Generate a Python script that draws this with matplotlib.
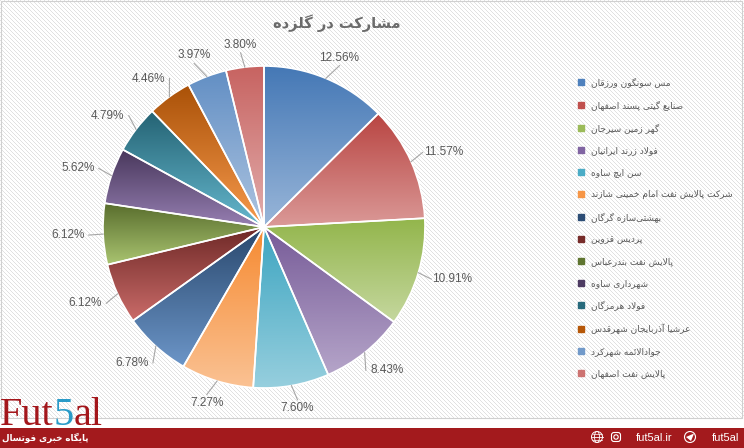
import colorsys
import numpy as np
import matplotlib
matplotlib.use('Agg')
import matplotlib.pyplot as plt
import matplotlib.patches as mpatches
from matplotlib.lines import Line2D
from matplotlib.colors import to_rgb

# data
teams = [
    'مس سونگون ورزقان',
    'صنایع گیتی پسند اصفهان',
    'گهر زمین سیرجان',
    'فولاد زرند ایرانیان',
    'سن ایچ ساوه',
    'شرکت پالایش نفت امام خمینی شازند',
    'بهشتی\u200cسازه گرگان',
    'پردیس قزوین',
    'پالایش نفت بندرعباس',
    'شهرداری ساوه',
    'فولاد هرمزگان',
    'عرشیا آذربایجان شهرقدس',
    'جوادالائمه شهرکرد',
    'پالایش نفت اصفهان',
]
shares = [12.56, 11.57, 10.91, 8.43, 7.60, 7.27, 6.78, 6.12, 6.12, 5.62, 4.79, 4.46, 3.97, 3.80]
colors = ['#4F81BD', '#C0504D', '#9BBB59', '#8064A2', '#4BACC6', '#F79646', '#2C4D75',
          '#772C2A', '#5F7530', '#4D3B62', '#276A7C', '#B65708', '#729ACA', '#CD7371']
title = 'مشارکت در گلزده'
site_fa = 'پایگاه خبری فوتسال'

# --- minimal persian shaping (no arabic_reshaper / bidi available) ---
FORMS = {
    'ا': (0xFE8D, 0xFE8E, None, None), 'آ': (0xFE81, 0xFE82, None, None),
    'ب': (0xFE8F, 0xFE90, 0xFE91, 0xFE92), 'پ': (0xFB56, 0xFB57, 0xFB58, 0xFB59),
    'ت': (0xFE95, 0xFE96, 0xFE97, 0xFE98), 'ث': (0xFE99, 0xFE9A, 0xFE9B, 0xFE9C),
    'ج': (0xFE9D, 0xFE9E, 0xFE9F, 0xFEA0), 'چ': (0xFB7A, 0xFB7B, 0xFB7C, 0xFB7D),
    'ح': (0xFEA1, 0xFEA2, 0xFEA3, 0xFEA4), 'خ': (0xFEA5, 0xFEA6, 0xFEA7, 0xFEA8),
    'د': (0xFEA9, 0xFEAA, None, None), 'ذ': (0xFEAB, 0xFEAC, None, None),
    'ر': (0xFEAD, 0xFEAE, None, None), 'ز': (0xFEAF, 0xFEB0, None, None),
    'ژ': (0xFB8A, 0xFB8B, None, None),
    'س': (0xFEB1, 0xFEB2, 0xFEB3, 0xFEB4), 'ش': (0xFEB5, 0xFEB6, 0xFEB7, 0xFEB8),
    'ص': (0xFEB9, 0xFEBA, 0xFEBB, 0xFEBC), 'ض': (0xFEBD, 0xFEBE, 0xFEBF, 0xFEC0),
    'ط': (0xFEC1, 0xFEC2, 0xFEC3, 0xFEC4), 'ظ': (0xFEC5, 0xFEC6, 0xFEC7, 0xFEC8),
    'ع': (0xFEC9, 0xFECA, 0xFECB, 0xFECC), 'غ': (0xFECD, 0xFECE, 0xFECF, 0xFED0),
    'ف': (0xFED1, 0xFED2, 0xFED3, 0xFED4), 'ق': (0xFED5, 0xFED6, 0xFED7, 0xFED8),
    'ک': (0xFB8E, 0xFB8F, 0xFB90, 0xFB91), 'گ': (0xFB92, 0xFB93, 0xFB94, 0xFB95),
    'ل': (0xFEDD, 0xFEDE, 0xFEDF, 0xFEE0), 'م': (0xFEE1, 0xFEE2, 0xFEE3, 0xFEE4),
    'ن': (0xFEE5, 0xFEE6, 0xFEE7, 0xFEE8), 'ه': (0xFEE9, 0xFEEA, 0xFEEB, 0xFEEC),
    'و': (0xFEED, 0xFEEE, None, None), 'ی': (0xFBFC, 0xFBFD, 0xFBFE, 0xFBFF),
    'ئ': (0xFE89, 0xFE8A, 0xFE8B, 0xFE8C),
}
DUAL = {c for c, f in FORMS.items() if f[2] is not None}
LAM_ALEF = {'ا': (0xFEFB, 0xFEFC), 'آ': (0xFEF5, 0xFEF6)}


def fa(text):
    chars = list(text)
    out = []
    i = 0
    while i < len(chars):
        c = chars[i]
        prev = chars[i - 1] if i > 0 else ''
        nxt = chars[i + 1] if i + 1 < len(chars) else ''
        cp = prev in DUAL and c in FORMS
        if c == 'ل' and nxt in LAM_ALEF:
            iso, fin = LAM_ALEF[nxt]
            out.append(chr(fin if cp else iso))
            i += 2
            continue
        if c in FORMS:
            iso, fin, ini, med = FORMS[c]
            cn = c in DUAL and nxt in FORMS
            if cp and cn:
                code = med
            elif cp:
                code = fin
            elif cn:
                code = ini
            else:
                code = iso
            out.append(chr(code))
        elif c != '\u200c':
            out.append(c)
        i += 1
    return ''.join(reversed(out))


def shade(c, top=True):
    h, l, s = colorsys.rgb_to_hls(*to_rgb(c))
    l = l * 0.93 if top else l + (1 - l) * 0.42
    return np.array(colorsys.hls_to_rgb(h, l, s))


plt.rcParams['font.family'] = ['DejaVu Sans']
W, H = 744, 448
fig = plt.figure(figsize=(W / 100, H / 100), dpi=100)
fig.patch.set_facecolor('white')

# striped chart-area background
yy, xx = np.mgrid[0:H, 0:W]
bg = np.ones((H, W, 3))
bg[(xx - yy) % 4 == 0] = 0.885
bg[419:] = 1.0
fig.figimage(bg, 0, 0, zorder=-1, origin='upper')

# overlay in pixel coords for frame, title, legend, footer
deco = fig.add_axes([0, 0, 1, 1])
deco.set_xlim(0, W)
deco.set_ylim(H, 0)
deco.axis('off')
deco.add_patch(mpatches.Rectangle((1, 1), W - 3, 417, fill=False, edgecolor='#D0D0D0', lw=0.8))
deco.text(337, 23, fa(title), ha='center', va='center', fontsize=10.5, fontweight='bold', color='#6B6B6B')

handles = [Line2D([], [], ls='', marker='s', markersize=4, color=c) for c in colors]
deco.legend(handles, [fa(t) for t in teams], loc='upper left', bbox_to_anchor=(578, 77),
            bbox_transform=deco.transData, frameon=False, fontsize=6.5, labelcolor='#595959',
            handlelength=0.6, handletextpad=0.8, labelspacing=1.44, borderpad=0, borderaxespad=0)

# footer banner
deco.add_patch(mpatches.Rectangle((0, 428), W, 20, color='#A31A1D', lw=0))
deco.text(2, 438, fa(site_fa), ha='left', va='center', fontsize=6.3, fontweight='bold', color='white')
deco.text(739, 438, 'fut5al', ha='right', va='center', fontsize=8, color='white', family='Liberation Sans')
deco.text(672, 438, 'fut5al.ir', ha='right', va='center', fontsize=8, color='white', family='Liberation Sans')
deco.add_patch(mpatches.Circle((690, 437), 5.5, fill=False, ec='white', lw=0.8))
deco.add_patch(mpatches.Polygon([(686, 437), (694, 433.5), (691, 441)], closed=True, fc='white', ec='none'))
deco.add_patch(mpatches.FancyBboxPatch((611.5, 432.5), 9, 9, boxstyle='round,pad=0,rounding_size=2.5',
                                       fill=False, ec='white', lw=0.8))
deco.add_patch(mpatches.Circle((616, 437), 2.2, fill=False, ec='white', lw=0.8))
deco.add_patch(mpatches.Circle((597, 437), 5.5, fill=False, ec='white', lw=0.7))
deco.add_patch(mpatches.Ellipse((597, 437), 5, 11, fill=False, ec='white', lw=0.6))
deco.plot([591.5, 602.5], [437, 437], color='white', lw=0.6)
deco.plot([592.5, 601.5], [434, 434], color='white', lw=0.5)
deco.plot([592.5, 601.5], [440, 440], color='white', lw=0.5)

# logo
fig.canvas.draw()
rend = fig.canvas.get_renderer()
x = 0
for part, col in [('Fut', '#A3161B'), ('5', '#2A9BC8'), ('al', '#A3161B')]:
    t = deco.text(x, 425, part, ha='left', va='baseline', fontsize=29, color=col, family='Liberation Serif')
    bb = t.get_window_extent(rend)
    x += bb.width

# pie
cx, cy, R = 264, 227, 161
half = 233
ax = fig.add_axes([(cx - half) / W, (H - cy - half) / H, 2 * half / W, 2 * half / H])
ax.patch.set_visible(False)
wedges, _ = ax.pie(shares, colors=colors, startangle=90, counterclock=False, radius=1.0,
                   wedgeprops=dict(edgecolor='white', linewidth=1.2))
for w, c in zip(wedges, colors):
    ext = w.get_path().get_extents()
    grad = np.linspace(0, 1, 256)[:, None, None]
    img = shade(c, True) * (1 - grad) + shade(c, False) * grad
    im = ax.imshow(img, extent=(ext.x0, ext.x1, ext.y0, ext.y1), origin='upper', aspect='auto',
                   interpolation='bilinear', zorder=1)
    im.set_clip_path(w)
    w.set_facecolor('none')
    w.set_zorder(2)

for w, v in zip(wedges, shares):
    a = np.deg2rad((w.theta1 + w.theta2) / 2)
    ca, sa = np.cos(a), np.sin(a)
    lx, ly = 1.22 * ca, 1.14 * sa
    if abs(ca) > 0.45:
        ex, ey = lx - np.sign(ca) * 0.13, ly
    else:
        ex, ey = lx, ly - np.sign(sa) * 0.05
    ax.plot([ca, ex], [sa, ey], color='#A6A6A6', lw=0.8, zorder=3, clip_on=False)
    ax.text(lx, ly, f'{v:.2f}%', ha='center', va='center', fontsize=8.5, color='#595959',
            family='Liberation Sans')

ax.set_xlim(-half / R, half / R)
ax.set_ylim(-half / R, half / R)
ax.axis('off')

fig.savefig('out.png', dpi=100)
